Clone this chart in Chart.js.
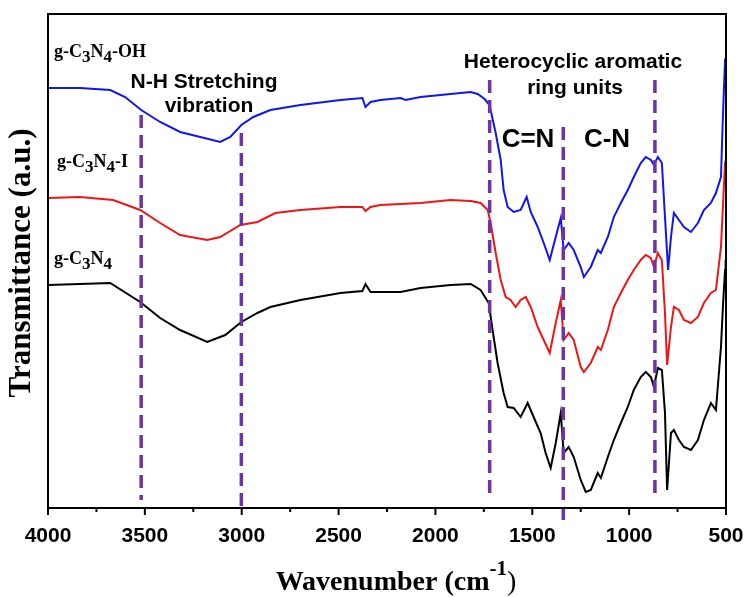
<!DOCTYPE html>
<html><head><meta charset="utf-8">
<script src="https://cdn.jsdelivr.net/npm/chart.js@4/dist/chart.umd.min.js"></script>
<style>html,body{margin:0;padding:0;background:#fff}#wrap{width:747px;height:597px}</style>
</head><body><div id="wrap"><canvas id="c" width="747" height="597"></canvas></div>
<script>
// ---- data (wavenumber in cm-1, transmittance in a.u.) ----
const ohWavenumber = [4000,3835,3679,3602,3519,3421,3318,3214,3111,3059,3002,2940,2852,2697,2490,2377,2361,2335,2284,2180,2154,2077,1922,1818,1782,1746,1725,1715,1689,1663,1648,1627,1596,1560,1529,1508,1472,1441,1410,1379,1353,1338,1312,1286,1250,1234,1198,1162,1146,1110,1079,1043,1007,976,940,914,888,872,852,831,815,799,784,769,743,717,681,645,614,578,552,526,516,505,502];
const ohTransmittance = [420,420,418,411,398,386,376,371,366,371,383,391,398,403,408,410,401,406,408,410,408,411,414,416,414,409,404,398,375,348,318,301,296,298,311,296,281,265,248,271,290,258,265,258,241,231,241,258,255,271,291,305,318,331,345,351,348,343,351,345,291,238,271,295,288,281,276,285,298,305,315,331,391,448,450];

const iWavenumber = [4000,3835,3664,3524,3421,3318,3178,3111,3007,2919,2826,2697,2490,2377,2361,2335,2284,2077,1922,1818,1767,1730,1715,1689,1663,1637,1612,1586,1560,1534,1508,1472,1441,1410,1379,1353,1338,1312,1286,1250,1234,1198,1162,1146,1110,1079,1043,1007,976,940,914,888,872,852,831,815,804,784,769,743,717,681,645,614,578,552,526,516,505,502];
const iTransmittance = [310,311,308,298,285,273,268,271,283,286,295,298,301,301,297,301,303,305,308,307,305,298,285,255,228,211,208,201,208,211,201,181,168,155,185,208,168,175,168,141,136,145,161,158,178,201,215,228,238,248,253,250,241,255,248,195,143,181,201,198,188,185,191,205,215,218,261,301,345,348];

const bulkWavenumber = [4000,3835,3679,3524,3421,3318,3178,3085,3002,2919,2852,2697,2490,2377,2361,2335,2180,2077,1922,1818,1767,1725,1705,1679,1648,1627,1596,1560,1524,1493,1457,1431,1405,1379,1353,1338,1312,1286,1250,1224,1198,1162,1146,1110,1079,1043,1007,976,940,914,888,872,852,831,815,804,784,769,743,717,681,645,614,578,552,526,516,505,502];
const bulkTransmittance = [223,224,225,206,190,178,166,173,186,195,201,208,215,217,224,216,216,220,223,224,218,205,178,145,115,101,100,91,105,91,75,55,40,65,95,55,61,51,28,16,18,35,30,51,68,85,101,118,131,136,131,121,140,138,95,18,75,78,68,61,58,68,88,105,98,161,201,238,248];

const seriesNames = ['g-C3N4-OH','g-C3N4-I','g-C3N4'];
const markerWavenumbers = [3519,3002,1720,1340,867];
const markerTop = [393,375,428,381,428];
const markerBottom = [8,0,13,-12,13];
const majorTicks = [4000,3500,3000,2500,2000,1500,1000,500];

const zip = (xs, ys) => xs.map((x,i)=>({x:x, y:ys[i]}));

const datasets = [];
markerWavenumbers.forEach((w,i)=>{
  datasets.push({data:[{x:w,y:markerTop[i]},{x:w,y:markerBottom[i]}], borderColor:'#6E33A8', borderWidth:3.5, borderDash:[13,7], pointRadius:0, clip:false, borderCapStyle:'butt'});
});
datasets.push({label:seriesNames[0], data:zip(ohWavenumber,ohTransmittance), borderColor:'#1414F0', borderWidth:2, pointRadius:0, tension:0});
datasets.push({label:seriesNames[1], data:zip(iWavenumber,iTransmittance), borderColor:'#EE1515', borderWidth:2, pointRadius:0, tension:0});
datasets.push({label:seriesNames[2], data:zip(bulkWavenumber,bulkTransmittance), borderColor:'#000000', borderWidth:2, pointRadius:0, tension:0});

function drawRich(ctx, parts, x, y, size){
  let cx = x;
  parts.forEach(p=>{
    const sub = p[1];
    ctx.font = 'bold ' + (sub? size*0.95 : size) + 'px "Liberation Serif"';
    ctx.fillText(p[0], cx, y + (sub? size*0.33 : 0));
    cx += ctx.measureText(p[0]).width;
  });
}

const annot = {
  id:'annot',
  afterDraw(chart){
    const ctx = chart.ctx, a = chart.chartArea, xs = chart.scales.x;
    ctx.save();
    ctx.strokeStyle = '#000'; ctx.lineWidth = 2;
    ctx.strokeRect(a.left, a.top, a.right-a.left, a.bottom-a.top);
    xs.ticks.forEach(t=>{
      const px = xs.getPixelForValue(t.value);
      const len = majorTicks.includes(t.value) ? 7 : 4;
      ctx.beginPath(); ctx.moveTo(px, a.bottom); ctx.lineTo(px, a.bottom+len); ctx.stroke();
    });
    ctx.fillStyle = '#000';
    ctx.textBaseline = 'middle';
    ctx.textAlign = 'left';
    drawRich(ctx, [['g-C',0],['3',1],['N',0],['4',1],['-OH',0]], 54, 52, 18);
    drawRich(ctx, [['g-C',0],['3',1],['N',0],['4',1],['-I',0]], 57, 162, 18);
    drawRich(ctx, [['g-C',0],['3',1],['N',0],['4',1]], 54, 259, 18);
    ctx.textAlign = 'center';
    ctx.font = 'bold 21px "Liberation Sans"';
    ctx.fillText('N-H Stretching', 204, 82);
    ctx.fillText('vibration', 209, 106);
    ctx.fillText('Heterocyclic aromatic', 573, 62);
    ctx.fillText('ring units', 575, 88);
    ctx.font = 'bold 26px "Liberation Sans"';
    ctx.fillText('C=N', 528, 140);
    ctx.fillText('C-N', 607, 140);
    // x title
    const big = 'bold 28px "Liberation Serif"', small = 'bold 21px "Liberation Serif"', par = '28px "Liberation Serif"';
    ctx.font = big;
    const base = 'Wavenumber (cm';
    const wBase = ctx.measureText(base).width;
    ctx.font = small;
    const wSup = ctx.measureText('-1').width;
    ctx.font = par;
    const wEnd = ctx.measureText(')').width;
    const total = wBase + wSup + wEnd;
    let sx = 396 - total/2;
    ctx.textAlign = 'left';
    ctx.font = big;
    ctx.fillText(base, sx, 583);
    ctx.font = small;
    ctx.fillText('-1', sx + wBase, 570);
    ctx.font = par;
    ctx.fillText(')', sx + wBase + wSup, 583);
    // y title
    ctx.translate(22, 263);
    ctx.rotate(-Math.PI/2);
    ctx.textAlign = 'center';
    ctx.font = 'bold 31px "Liberation Serif"';
    ctx.fillText('Transmittance (a.u.)', 0, 0);
    ctx.restore();
  }
};

new Chart(document.getElementById('c').getContext('2d'), {
  type:'line',
  data:{datasets:datasets},
  options:{
    responsive:false, animation:false,
    layout:{padding:{top:14,right:21,left:0,bottom:0}},
    plugins:{legend:{display:false}, tooltip:{enabled:false}},
    scales:{
      x:{type:'linear', reverse:true, min:500, max:4000,
        ticks:{stepSize:250, autoSkip:false, maxRotation:0, padding:16,
          callback:(v)=> majorTicks.includes(v) ? String(v) : '',
          font:{family:'"Liberation Sans"', weight:'bold', size:21}, color:'#000'},
        grid:{display:false, drawTicks:false},
        border:{display:true, color:'#000', width:2},
        afterFit:(s)=>{s.height = 89; s.paddingLeft = 0; s.paddingRight = 0;}
      },
      y:{min:0, max:494,
        ticks:{display:false},
        grid:{display:false, drawTicks:false},
        border:{display:true, color:'#000', width:2},
        afterFit:(s)=>{s.width = 48;}
      }
    }
  },
  plugins:[annot]
});
</script></body></html>
